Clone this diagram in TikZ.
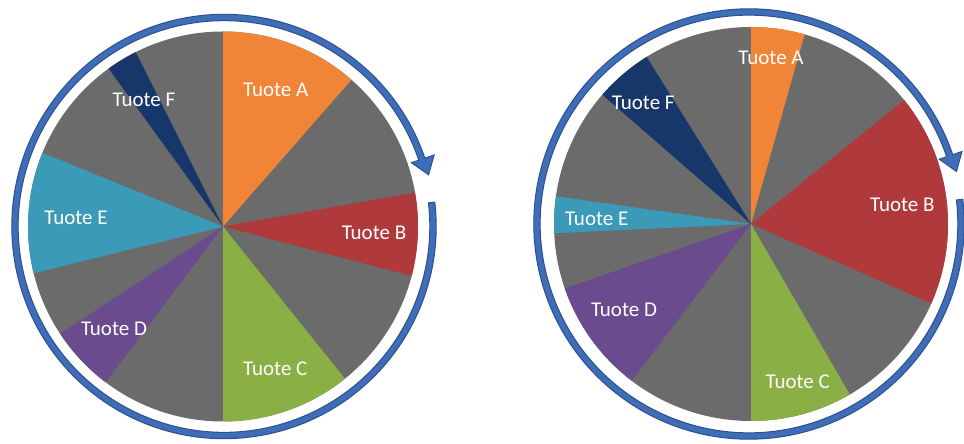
\documentclass[tikz,border=0pt]{standalone}
\usepackage{fontspec}
\setmainfont{Carlito}
\definecolor{pgray}{HTML}{6B6B6B}
\definecolor{porange}{HTML}{F08537}
\definecolor{pred}{HTML}{B0393B}
\definecolor{pgreen}{HTML}{8AAF45}
\definecolor{ppurple}{HTML}{6A4B8E}
\definecolor{pteal}{HTML}{3B9AB7}
\definecolor{pnavy}{HTML}{17366A}
\definecolor{ringfill}{HTML}{3F6DB8}
\definecolor{ringline}{HTML}{2B5190}
\tikzset{
  lbl/.style={text=white, anchor=base, inner sep=0pt, font=\fontsize{21}{25}\selectfont},
  ringarrow/.style={fill=ringfill, draw=ringline, line width=1pt, line join=miter},
}
% slice: #1 color, #2 start, #3 end, #4 radius
\newcommand{\pieslice}[4]{\fill[#1] (0,0) -- (#2:#4pt) arc[start angle=#2, end angle=#3, radius=#4pt] -- cycle;}
% ring arrow with mid radius #1
\newcommand{\ringarr}[1]{%
  \pgfmathsetmacro{\ro}{#1+3.2}\pgfmathsetmacro{\ri}{#1-3.2}%
  \pgfmathsetmacro{\ho}{#1+13}\pgfmathsetmacro{\hi}{#1-11}\pgfmathsetmacro{\ht}{#1+2}%
  \path[ringarrow] (6.6:\ro pt) arc[start angle=6.6, end angle=-341.2, radius=\ro pt]
    -- (18.8:\ho pt) -- (14.2:\ht pt) -- (18.8:\hi pt) -- (-341.2:\ri pt)
    arc[start angle=-341.2, end angle=6.6, radius=\ri pt] -- cycle;}
\begin{document}
\begin{tikzpicture}[x=1pt,y=1pt]
\useasboundingbox (0,0) rectangle (964,444);
\fill[white] (0,0) rectangle (964,444);
% ---------- left pie ----------
\begin{scope}[shift={(223,217.5)}]
  \fill[pgray] (0,0) circle[radius=195pt];
  \pieslice{porange}{48.8}{90}{195}
  \pieslice{pred}{-14.7}{10}{195}
  \pieslice{pgreen}{-90}{-51.3}{195}
  \pieslice{ppurple}{213.4}{233}{195}
  \pieslice{pteal}{157.8}{193.9}{195}
  \pieslice{pnavy}{116.6}{125.9}{195}
\end{scope}
\begin{scope}[shift={(224,217.5)}]
  \ringarr{209}
\end{scope}
\node[lbl] (lA) at (275.7,{444-89.3-7}) {Tuote A};
\node[lbl] (lF) at (144,{444-99.3-7}) {Tuote F};
\node[lbl] (lE) at (76,{444-217.3-7}) {Tuote E};
\node[lbl] (lB) at (374,{444-232.3-7}) {Tuote B};
\node[lbl] (lD) at (114,{444-329-7}) {Tuote D};
\node[lbl] (lC) at (275.3,{444-368.7-7}) {Tuote C};
% ---------- right pie ----------
\begin{scope}[shift={(751,220)}]
  \fill[pgray] (0,0) circle[radius=197pt];
  \pieslice{porange}{74.2}{90}{197}
  \pieslice{pred}{-23.8}{39}{197}
  \pieslice{pgreen}{-90}{-59.9}{197}
  \pieslice{ppurple}{199.1}{232.7}{197}
  \pieslice{pteal}{171.9}{182.7}{197}
  \pieslice{pnavy}{122}{139}{197}
\end{scope}
\begin{scope}[shift={(749,220)}]
  \ringarr{212}
\end{scope}
\node[lbl] (rA) at (771,{444-57.3-7}) {Tuote A};
\node[lbl] (rF) at (643.3,{444-102.3-7}) {Tuote F};
\node[lbl] (rE) at (596.7,{444-219-7}) {Tuote E};
\node[lbl] (rB) at (902.3,{444-204.7-7}) {Tuote B};
\node[lbl] (rD) at (624,{444-310-7}) {Tuote D};
\node[lbl] (rC) at (797.7,{444-381.7-7}) {Tuote C};
\end{tikzpicture}
\end{document}
